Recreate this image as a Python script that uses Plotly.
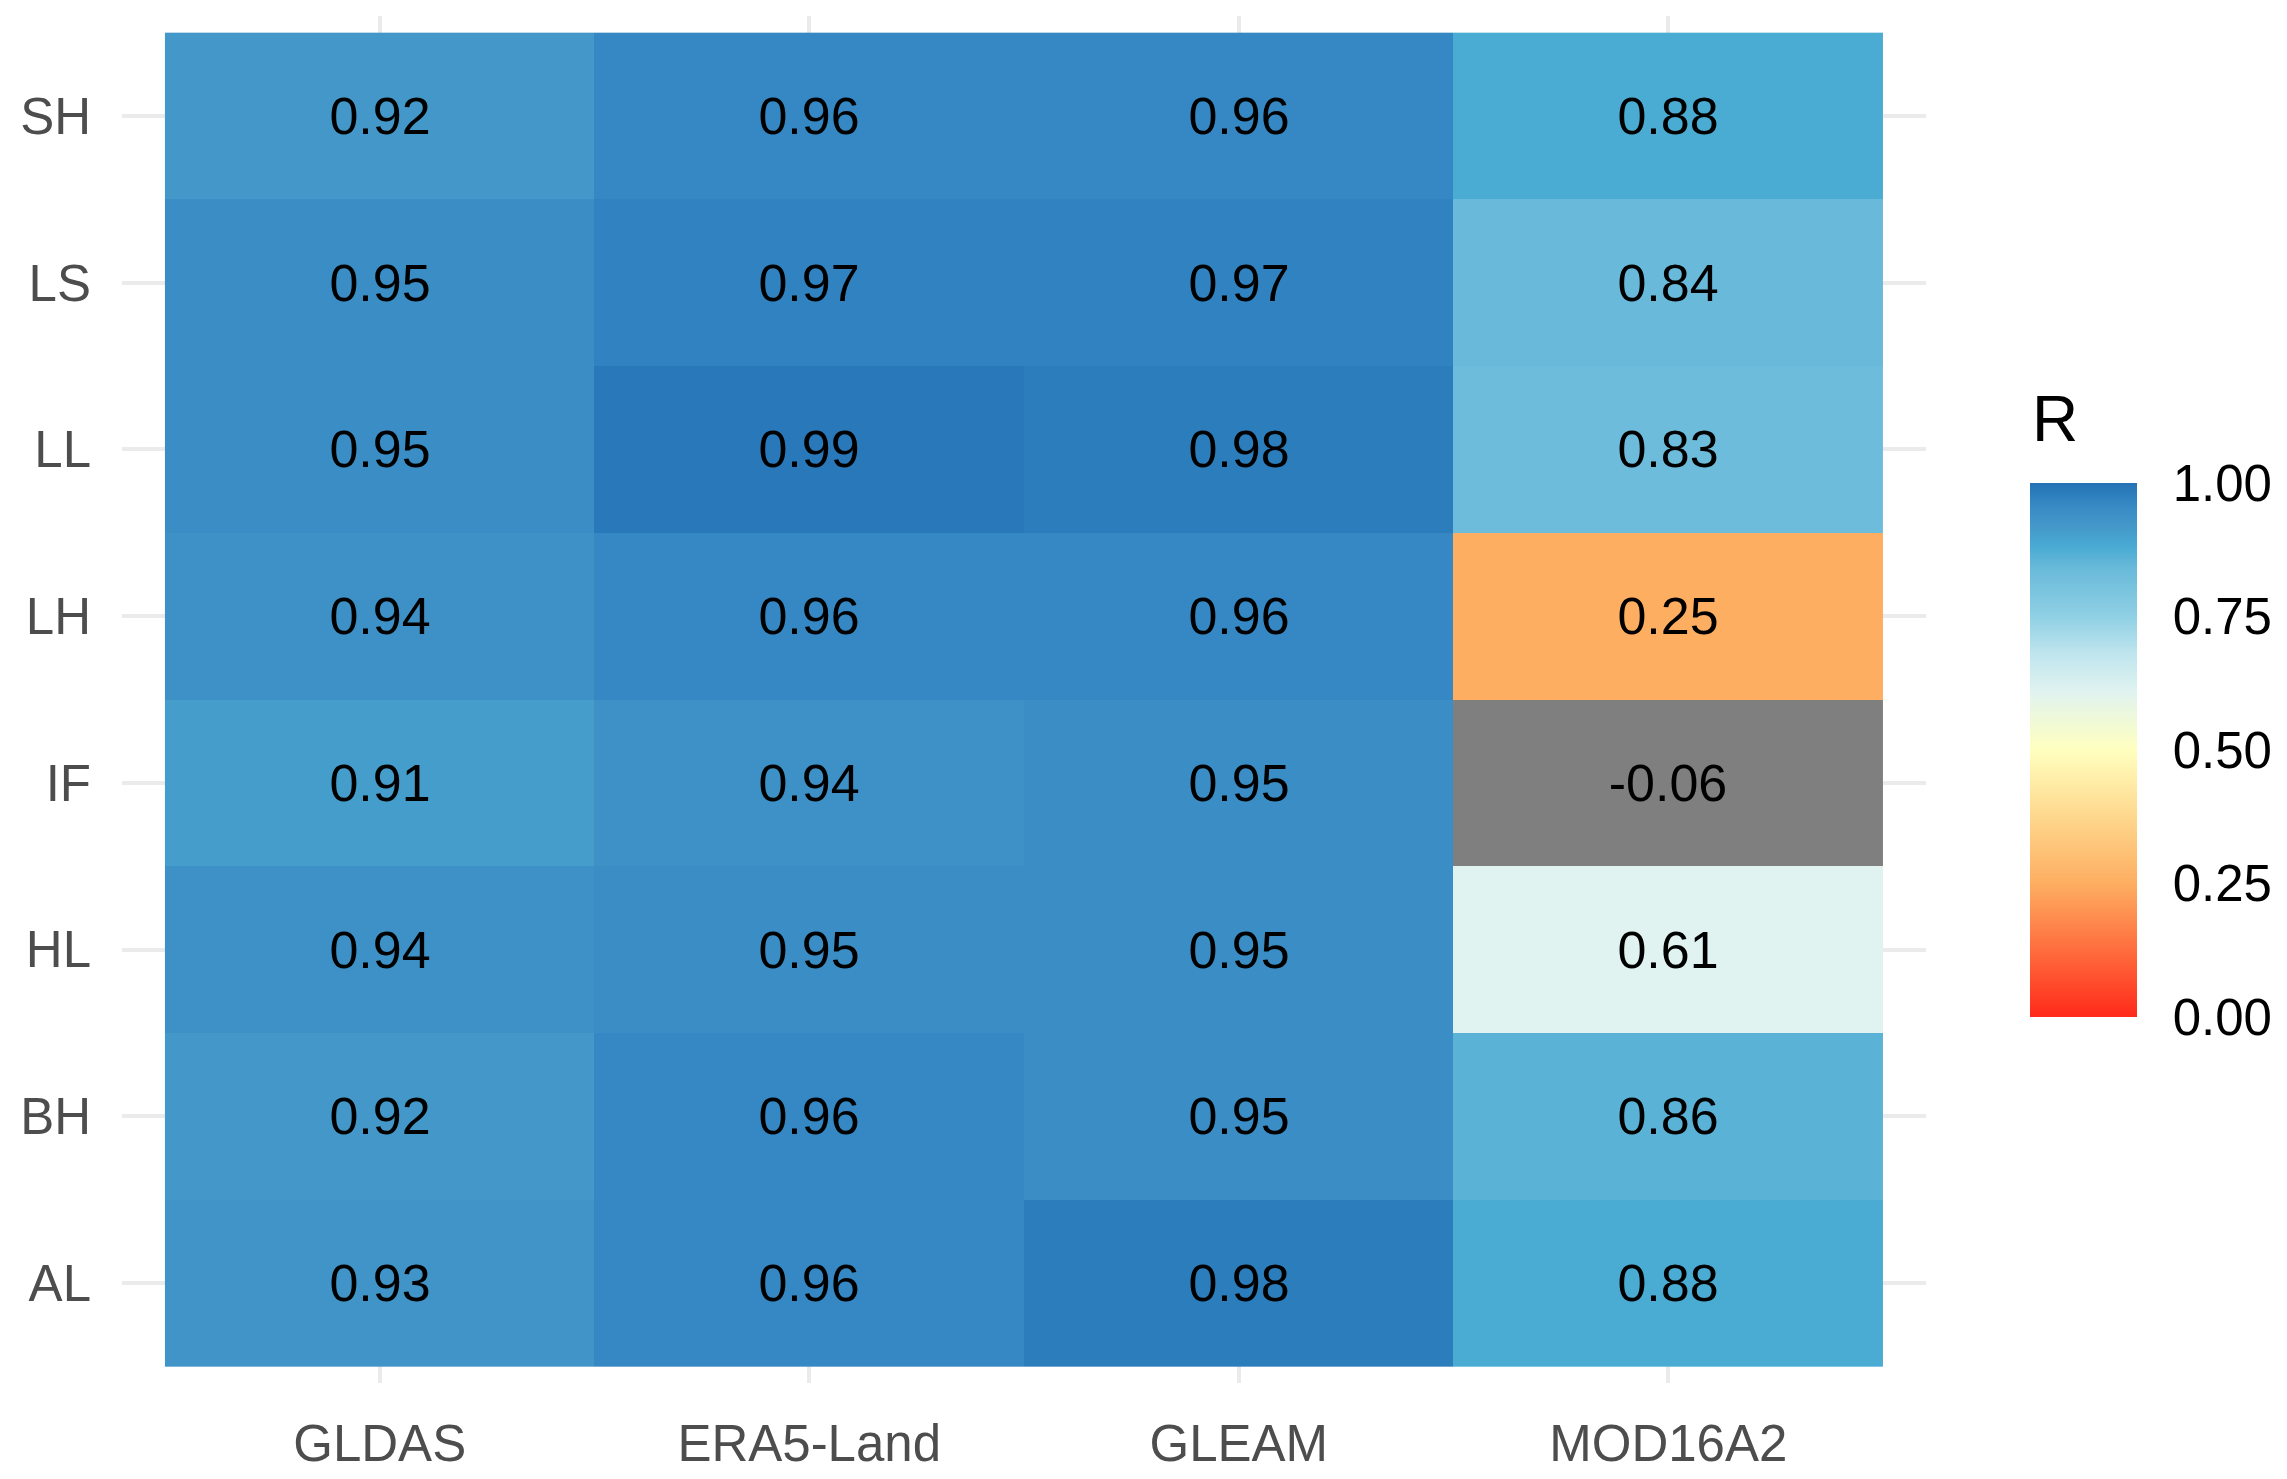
import plotly.graph_objects as go
import numpy as np

products = ["GLDAS", "ERA5-Land", "GLEAM", "MOD16A2"]
regions = ["SH", "LS", "LL", "LH", "IF", "HL", "BH", "AL"]  # top to bottom

gldas = [0.92, 0.95, 0.95, 0.94, 0.91, 0.94, 0.92, 0.93]
era5 = [0.96, 0.97, 0.99, 0.96, 0.94, 0.95, 0.96, 0.96]
gleam = [0.96, 0.97, 0.98, 0.96, 0.95, 0.95, 0.95, 0.98]
mod16 = [0.88, 0.84, 0.83, 0.25, -0.06, 0.61, 0.86, 0.88]

cbar_ticks = [0.0, 0.25, 0.5, 0.75, 1.0]
cbar_ticktext = ["0.00", "0.25", "0.50", "0.75", "1.00"]

cols = [gldas, era5, gleam, mod16]
Z = np.array(cols, dtype=float).T  # rows = regions, cols = products

in_range = (Z >= 0) & (Z <= 1)
Z_main = np.where(in_range, Z, np.nan)
Z_out = np.where(in_range, np.nan, Z)

colorscale = [
    [0.00, "#FF2A1A"],
    [0.12, "#FF6A3C"],
    [0.25, "#FDAE61"],
    [0.38, "#FED98F"],
    [0.50, "#FFFFBF"],
    [0.61, "#E0F3F0"],
    [0.68, "#BFE5EE"],
    [0.75, "#8FD0E4"],
    [0.84, "#69BADA"],
    [0.88, "#4AABD3"],
    [0.92, "#4398C9"],
    [0.95, "#3A8DC5"],
    [0.97, "#3083C0"],
    [1.00, "#2572B5"],
]

FONT = "Liberation Sans, Arial, sans-serif"

OFF = 8  # page body margin offset
W, H = 2287, 1479
l, r, t, b = 122 - OFF, 361 + OFF, 16 - OFF, 96 + OFF
pw, ph = W - l - r, H - t - b
bar_x0, bar_x1, bar_y0, bar_y1 = 2030 - OFF, 2137 - OFF, 483 - OFF, 1017 - OFF
title_y = 419 - OFF
ypad = 10

fig = go.Figure()
fig.add_trace(go.Heatmap(
    z=Z_main, x=products, y=regions,
    zmin=0, zmax=1, colorscale=colorscale,
    texttemplate="%{z:.2f}",
    textfont=dict(family=FONT, size=52, color="black"),
    hoverinfo="skip",
    colorbar=dict(
        tickvals=cbar_ticks, ticktext=cbar_ticktext,
        tickfont=dict(family=FONT, size=51, color="black"),
        ticks="outside", ticklen=26, tickcolor="rgba(255,255,255,0)",
        thickness=bar_x1 - bar_x0, thicknessmode="pixels",
        len=(bar_y1 - bar_y0) + 2 * ypad, lenmode="pixels", ypad=ypad,
        x=(bar_x0 - l) / pw, xanchor="left", xref="paper", xpad=0,
        y=(H - b - (bar_y0 + bar_y1) / 2) / ph, yanchor="middle",
        outlinewidth=0,
    ),
))
fig.add_trace(go.Heatmap(
    z=Z_out, x=products, y=regions,
    colorscale=[[0, "#7F7F7F"], [1, "#7F7F7F"]],
    showscale=False,
    texttemplate="%{z:.2f}",
    textfont=dict(family=FONT, size=52, color="black"),
    hoverinfo="skip",
))

# white inner tick marks of the colour bar
shapes = []
for v in cbar_ticks[1:-1]:
    ypix = bar_y1 - v * (bar_y1 - bar_y0)
    yp = (H - b - ypix) / ph
    for xa, xb in [(bar_x0, bar_x0 + 20), (bar_x1 - 20, bar_x1)]:
        shapes.append(dict(type="line", xref="paper", yref="paper",
                           x0=(xa - l) / pw, x1=(xb - l) / pw, y0=yp, y1=yp,
                           line=dict(color="white", width=2)))

fig.update_layout(
    width=W, height=H,
    margin=dict(l=l, r=r, t=t, b=b, autoexpand=False),
    paper_bgcolor="white", plot_bgcolor="white",
    font=dict(family=FONT),
    shapes=shapes,
    annotations=[dict(text="R", xref="paper", yref="paper",
                      x=(bar_x0 - l) / pw, y=(H - b - title_y) / ph,
                      xanchor="left", yanchor="middle", showarrow=False,
                      font=dict(family=FONT, size=64, color="black"))],
    xaxis=dict(
        type="category", categoryorder="array", categoryarray=products,
        range=[-0.6, 3.6], showgrid=True, gridcolor="#EBEBEB", gridwidth=4,
        zeroline=False, showline=False, ticks="", ticklabelstandoff=26,
        automargin=False,
        tickfont=dict(family=FONT, size=51, color="#4D4D4D"),
    ),
    yaxis=dict(
        type="category", categoryorder="array", categoryarray=regions,
        range=[7.6, -0.6], showgrid=True, gridcolor="#EBEBEB", gridwidth=4,
        zeroline=False, showline=False, ticks="", ticklabelstandoff=30,
        automargin=False,
        tickfont=dict(family=FONT, size=51, color="#4D4D4D"),
    ),
)

fig.write_html("out.html")
